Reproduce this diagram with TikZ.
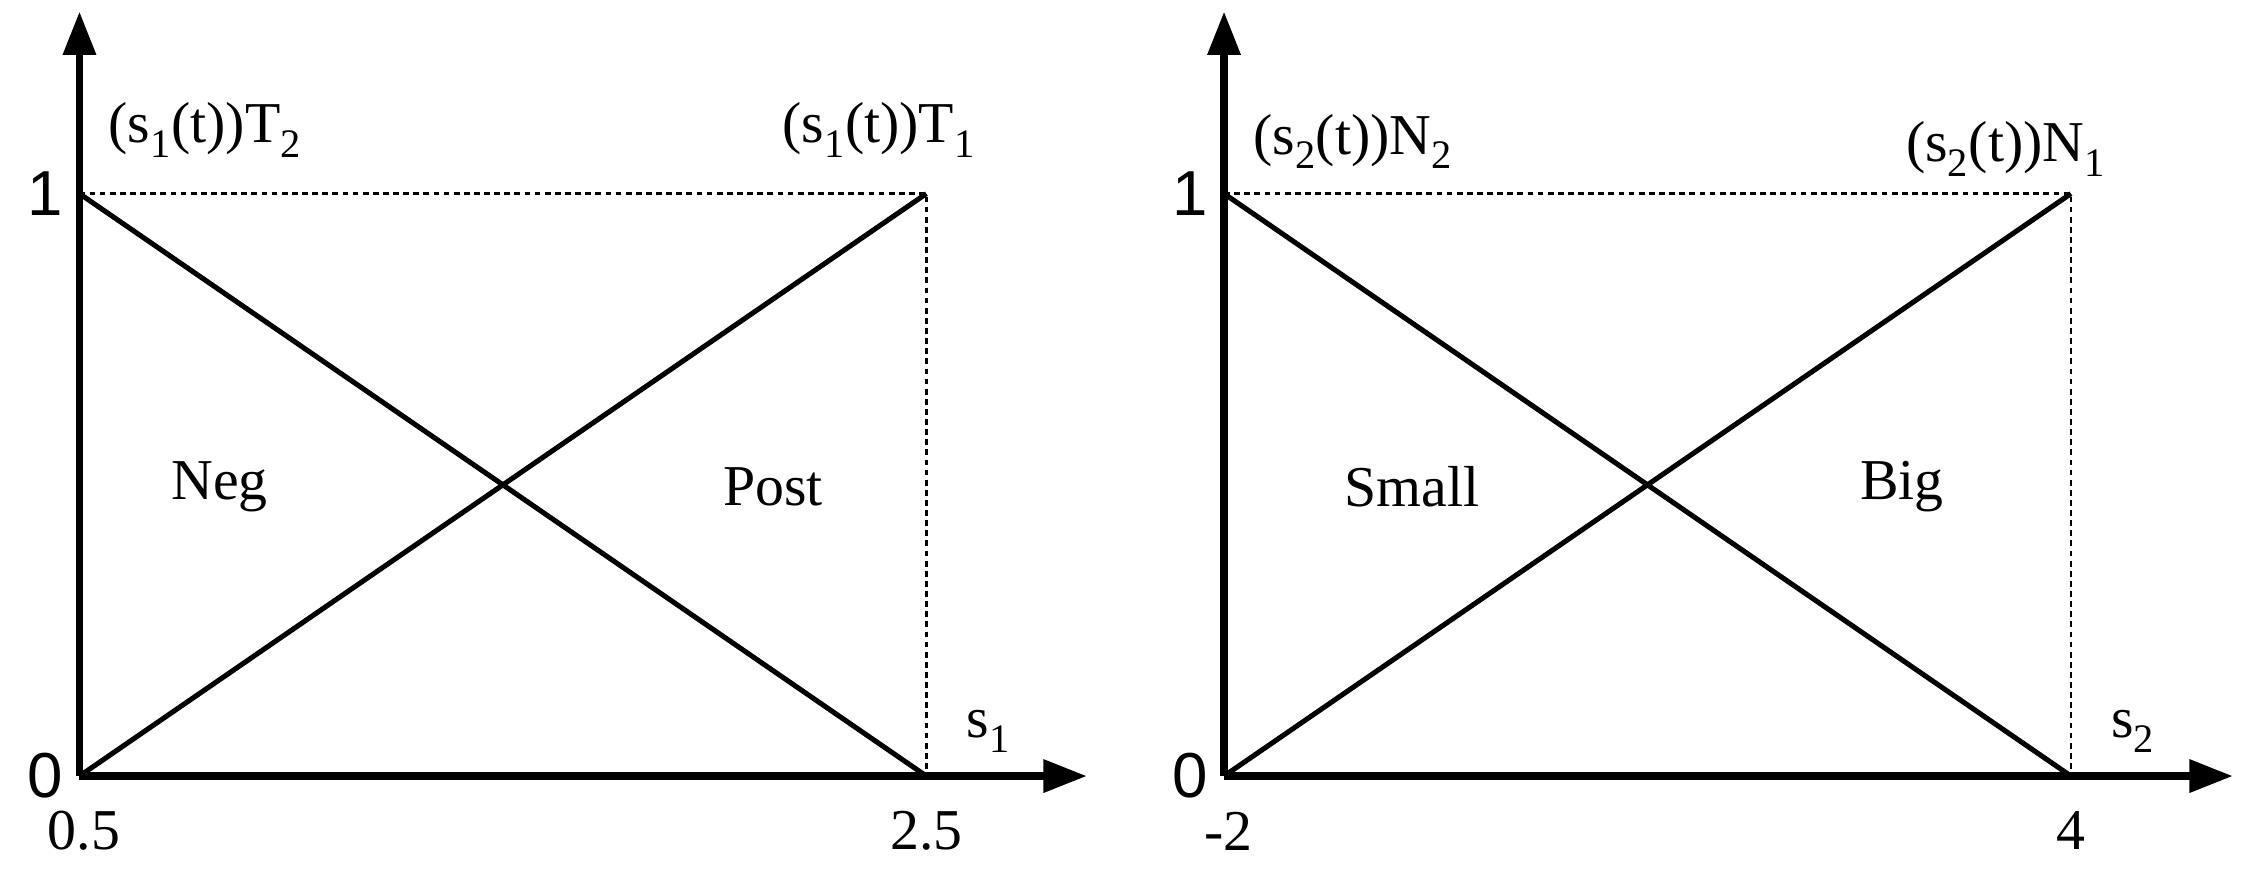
\documentclass[tikz,border=0pt]{standalone}
\usepackage{fontspec}
\setmainfont{Liberation Serif}
\setsansfont{Liberation Sans}
\usetikzlibrary{arrows.meta}
\begin{document}
\begin{tikzpicture}[x=1pt,y=-1pt,
  ax/.style={line width=5pt,-{Triangle[length=30pt,width=22pt]}},
  mf/.style={line width=3.5pt},
  gd/.style={line width=1.8pt,dash pattern=on 4pt off 3pt},
  lb/.style={font=\fontsize{40}{44}\selectfont,inner sep=0pt},
  sm/.style={font=\sffamily\fontsize{44}{48}\selectfont,inner sep=0pt}]
\useasboundingbox (0,0) rectangle (1568,602);
% left
\coordinate (o1) at (55,537);
\coordinate (t1) at (55,134);
\coordinate (a1) at (641,537);
\coordinate (b1) at (641,134);
\draw[ax] (o1) -- (55,8);
\draw[ax] (o1) -- (752,537);
\draw[mf] (t1) -- (a1);
\draw[mf] (o1) -- (b1);
\draw[gd] (t1) -- (b1) -- (a1);
\node[sm,anchor=east] (l1) at (44,134) {1};
\node[sm,anchor=east] (l0) at (44,537) {0};
\node[lb] (x05) at (58,575) {0.5};
\node[lb] (x25) at (641,575) {2.5};
\node[lb] (s1) at (684,506) {s\textsubscript{1}};
\node[lb,anchor=west] (T2) at (75,90) {(s\textsubscript{1}(t))T\textsubscript{2}};
\node[lb,anchor=east] (T1) at (675,90) {(s\textsubscript{1}(t))T\textsubscript{1}};
\node[lb] (neg) at (152,337) {Neg};
\node[lb] (post) at (535,337) {Post};
% right
\coordinate (o2) at (847,537);
\coordinate (t2) at (847,134);
\coordinate (a2) at (1433,537);
\coordinate (b2) at (1433,134);
\draw[ax] (o2) -- (847,8);
\draw[ax] (o2) -- (1545,537);
\draw[mf] (t2) -- (a2);
\draw[mf] (o2) -- (b2);
\draw[gd] (t2) -- (b2) -- (a2);
\node[sm,anchor=east] (r1) at (836,134) {1};
\node[sm,anchor=east] (r0) at (836,537) {0};
\node[lb] (xm2) at (850,575) {-2};
\node[lb] (x4) at (1433,575) {4};
\node[lb] (s2) at (1476,506) {s\textsubscript{2}};
\node[lb,anchor=west] (N2) at (867,98) {(s\textsubscript{2}(t))N\textsubscript{2}};
\node[lb,anchor=east] (N1) at (1457,103) {(s\textsubscript{2}(t))N\textsubscript{1}};
\node[lb] (small) at (977,337) {Small};
\node[lb] (big) at (1316,337) {Big};
\end{tikzpicture}
\end{document}
